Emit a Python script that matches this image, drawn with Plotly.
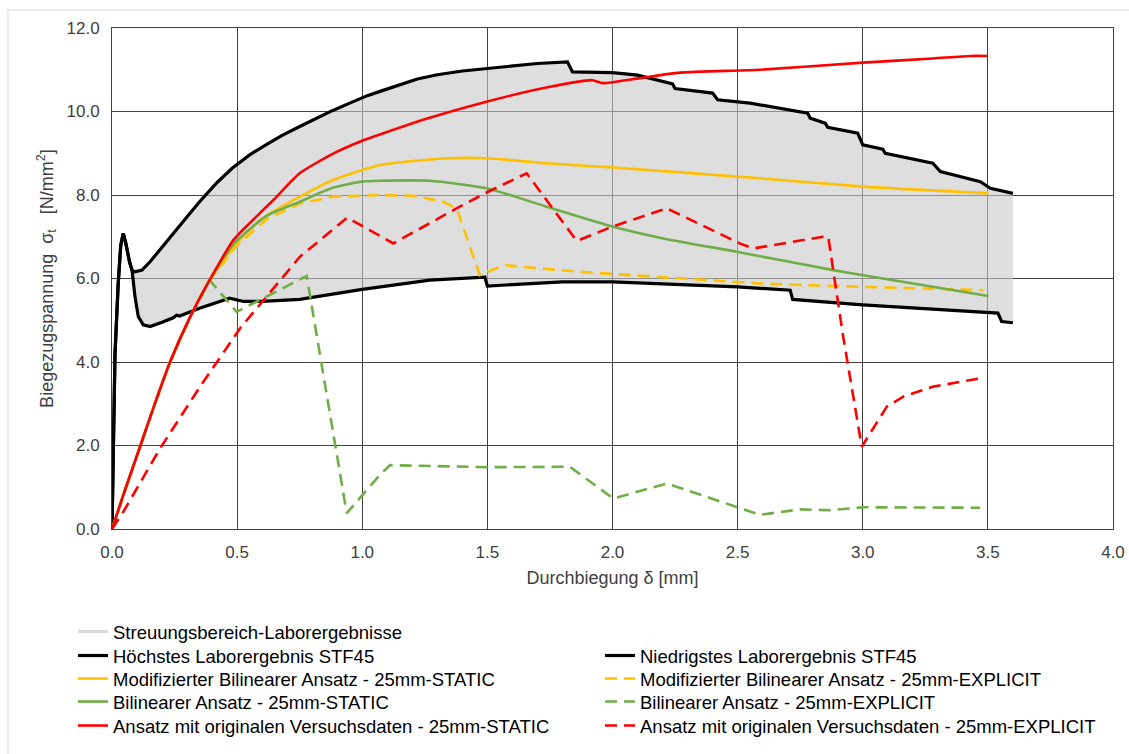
import plotly.graph_objects as go

# ---------------- data ----------------
high_x = [0, 0.006, 0.012, 0.025, 0.035, 0.045, 0.055, 0.07, 0.08, 0.092, 0.12, 0.152, 0.19, 0.22, 0.26,
          0.30, 0.35, 0.42, 0.48, 0.55, 0.62, 0.68, 0.75, 0.82, 0.88, 0.95, 1.02, 1.08, 1.15, 1.22,
          1.30, 1.40, 1.50, 1.60, 1.70, 1.82, 1.84, 2.00, 2.10, 2.24, 2.25,
          2.40, 2.42, 2.55, 2.78, 2.79, 2.85, 2.86, 2.98, 3.00, 3.08, 3.09, 3.28, 3.31, 3.47, 3.51, 3.60]
high_y = [0, 2.5, 4.2, 5.9, 6.8, 7.08, 6.85, 6.4, 6.2, 6.16, 6.2, 6.4, 6.68, 6.92, 7.2,
          7.48, 7.84, 8.3, 8.64, 8.96, 9.22, 9.43, 9.64, 9.85, 10.02, 10.2, 10.38, 10.5, 10.64, 10.78,
          10.88, 10.97, 11.03, 11.09, 11.15, 11.19, 10.95, 10.93, 10.87, 10.66, 10.55,
          10.44, 10.28, 10.2, 9.96, 9.84, 9.72, 9.62, 9.48, 9.2, 9.1, 9.0, 8.76, 8.56, 8.32, 8.16, 8.04]

low_x = [0, 0.006, 0.012, 0.025, 0.035, 0.045, 0.055, 0.07, 0.08, 0.092, 0.105, 0.125, 0.152, 0.2, 0.245,
         0.258, 0.27, 0.35, 0.47, 0.525, 0.6, 0.75, 0.95, 1.0, 1.27, 1.49, 1.50, 1.8, 2.0, 2.19,
         2.5, 2.71, 2.72, 3.0, 3.54, 3.555, 3.6]
low_y = [0, 2.5, 4.2, 5.9, 6.8, 7.08, 6.85, 6.4, 6.2, 5.56, 5.09, 4.89, 4.85, 4.95, 5.06,
         5.12, 5.1, 5.29, 5.53, 5.45, 5.45, 5.5, 5.68, 5.74, 5.96, 6.03, 5.82, 5.92, 5.92, 5.87,
         5.80, 5.72, 5.5, 5.37, 5.17, 4.97, 4.94]

red_static_x = [0, 0.05, 0.112, 0.17, 0.232, 0.31, 0.39, 0.485, 0.58, 0.645, 0.75, 0.88, 1.0, 1.07,
                1.27, 1.50, 1.74, 1.92, 1.96, 2.11, 2.27, 2.59, 3.0, 3.28, 3.43, 3.50]
red_static_y = [0, 0.9, 1.97, 2.98, 4.0, 5.05, 5.96, 6.92, 7.5, 7.88, 8.52, 8.98, 9.3, 9.45,
                9.85, 10.24, 10.58, 10.75, 10.68, 10.8, 10.93, 11.0, 11.17, 11.27, 11.33, 11.33]

yellow_static_x = [0, 0.05, 0.112, 0.17, 0.232, 0.31, 0.39, 0.5, 0.591, 0.751, 0.884, 1.071, 1.337,
                   1.497, 1.737, 2.003, 2.589, 3.002, 3.502]
yellow_static_y = [0, 0.9, 1.97, 2.98, 4.0, 5.05, 5.96, 6.85, 7.4, 7.96, 8.36, 8.72, 8.88,
                   8.88, 8.76, 8.66, 8.4, 8.2, 8.04]

green_static_x = [0, 0.05, 0.112, 0.17, 0.232, 0.31, 0.39, 0.485, 0.618, 0.751, 0.884, 1.0, 1.071,
                  1.271, 1.497, 1.737, 2.003, 2.203, 2.496, 2.882, 3.002, 3.502]
green_static_y = [0, 0.9, 1.97, 2.98, 4.0, 5.05, 5.96, 6.82, 7.5, 7.84, 8.18, 8.32, 8.34,
                  8.34, 8.16, 7.72, 7.24, 6.96, 6.64, 6.2, 6.08, 5.58]

yellow_explicit_x = [0, 0.05, 0.112, 0.17, 0.232, 0.31, 0.39, 0.5, 0.618, 0.751, 0.884, 1.071, 1.204,
                     1.324, 1.377, 1.47, 1.564, 1.87, 2.27, 2.589, 3.002, 3.482]
yellow_explicit_y = [0, 0.9, 1.97, 2.98, 4.0, 5.05, 5.96, 6.8, 7.42, 7.8, 7.96, 8.0, 7.98,
                     7.84, 7.68, 6.08, 6.32, 6.16, 6.0, 5.88, 5.8, 5.72]

green_explicit_x = [0, 0.05, 0.112, 0.17, 0.232, 0.31, 0.39, 0.498, 0.591, 0.778, 0.938, 1.071, 1.111,
                    1.497, 1.83, 2.003, 2.217, 2.589, 2.749, 2.869, 3.002, 3.469]
green_explicit_y = [0, 0.9, 1.97, 2.98, 4.0, 5.05, 5.96, 5.2, 5.48, 6.06, 0.38, 1.3, 1.53,
                    1.48, 1.49, 0.73, 1.09, 0.34, 0.47, 0.45, 0.52, 0.51]

red_explicit_x = [0, 0.045, 0.192, 0.352, 0.512, 0.618, 0.751, 0.94, 1.124, 1.377, 1.497, 1.657, 1.857,
                  2.003, 2.217, 2.509, 2.563, 2.842, 2.862, 2.922, 2.996, 3.096, 3.162, 3.282, 3.469]
red_explicit_y = [0, 0.41, 1.93, 3.41, 4.81, 5.56, 6.52, 7.46, 6.84, 7.68, 8.06, 8.52, 6.9,
                  7.25, 7.68, 6.84, 6.72, 7.0, 7.0, 4.6, 1.97, 2.93, 3.17, 3.41, 3.61]

names = {
    "band": "Streuungsbereich-Laborergebnisse",
    "high": "Höchstes Laborergebnis STF45",
    "low": "Niedrigstes Laborergebnis STF45",
    "ys": "Modifizierter Bilinearer Ansatz - 25mm-STATIC",
    "ye": "Modifizierter Bilinearer Ansatz - 25mm-EXPLICIT",
    "gs": "Bilinearer Ansatz - 25mm-STATIC",
    "ge": "Bilinearer Ansatz - 25mm-EXPLICIT",
    "rs": "Ansatz mit originalen Versuchsdaten - 25mm-STATIC",
    "re": "Ansatz mit originalen Versuchsdaten - 25mm-EXPLICIT",
}

# ---------------- styles ----------------
YELLOW = "#FFC000"
GREEN = "#70AD47"
RED = "#FF0000"
BLACK = "#000000"
DASH = "12px,7px"
FONT = "Liberation Sans, Arial, sans-serif"

# legend layout: one legend per row (pixel rows of the reference)
L_LEFT_PX, R_LEFT_PX = 73, 600
ROW_PX = [632, 656, 679, 702, 726]
PLOT_L, PLOT_W, PLOT_B, PLOT_H = 112, 1001, 529, 501


def lx(px):
    return (px - PLOT_L) / PLOT_W


def ly(py):
    return (PLOT_B - py) / PLOT_H


legend_slots = {
    "band": ("legend", L_LEFT_PX, ROW_PX[0]),
    "high": ("legend2", L_LEFT_PX, ROW_PX[1]),
    "ys": ("legend3", L_LEFT_PX, ROW_PX[2]),
    "gs": ("legend4", L_LEFT_PX, ROW_PX[3]),
    "rs": ("legend5", L_LEFT_PX, ROW_PX[4]),
    "low": ("legend6", R_LEFT_PX, ROW_PX[1]),
    "ye": ("legend7", R_LEFT_PX, ROW_PX[2]),
    "ge": ("legend8", R_LEFT_PX, ROW_PX[3]),
    "re": ("legend9", R_LEFT_PX, ROW_PX[4]),
}

fig = go.Figure()

# band (polygon between highest and lowest result)
fig.add_trace(go.Scatter(
    x=high_x + low_x[::-1], y=high_y + low_y[::-1],
    fill="toself", fillcolor="rgba(200,200,200,0.6)", mode="lines",
    line=dict(width=0, color="rgba(0,0,0,0)"), showlegend=False, hoverinfo="skip"))
fig.add_trace(go.Scatter(x=[None], y=[None], mode="lines", name=names["band"],
                         line=dict(color="#D9D9D9", width=3), legend=legend_slots["band"][0]))

series = [
    ("high", high_x, high_y, BLACK, 3.2, "solid", "linear"),
    ("low", low_x, low_y, BLACK, 3.2, "solid", "linear"),
    ("ys", yellow_static_x, yellow_static_y, YELLOW, 2.6, "solid", "spline"),
    ("ye", yellow_explicit_x, yellow_explicit_y, YELLOW, 2.6, DASH, "linear"),
    ("gs", green_static_x, green_static_y, GREEN, 2.6, "solid", "spline"),
    ("ge", green_explicit_x, green_explicit_y, GREEN, 2.6, DASH, "linear"),
    ("rs", red_static_x, red_static_y, RED, 2.6, "solid", "spline"),
    ("re", red_explicit_x, red_explicit_y, RED, 2.6, DASH, "linear"),
]
for key, xs, ys, col, w, dash, shape in series:
    line = dict(color=col, width=w, dash=dash, shape=shape)
    if shape == "spline":
        line["smoothing"] = 0.55
    fig.add_trace(go.Scatter(x=xs, y=ys, mode="lines", name=names[key], line=line,
                             legend=legend_slots[key][0]))

GRID = "#404040"
TXT = "#404040"
axis_common = dict(showgrid=True, gridcolor=GRID, gridwidth=1, zeroline=False,
                   showline=True, linecolor=GRID, linewidth=1, mirror=True,
                   tickformat=".1f", tickfont=dict(size=17, color=TXT, family=FONT),
                   ticks="", ticklabelstandoff=8)

layout = dict(
    width=1129, height=754,
    margin=dict(l=112, r=16, t=28, b=225, autoexpand=False),
    paper_bgcolor="white", plot_bgcolor="white",
    font=dict(family=FONT, color="#000000"),
    xaxis=dict(range=[0, 4], dtick=0.5, tick0=0,
               title=dict(text="Durchbiegung δ [mm]", font=dict(size=18, color=TXT), standoff=9),
               **axis_common),
    yaxis=dict(range=[0, 12], dtick=2, tick0=0,
               title=dict(text="Biegezugspannung\u00a0 σ<sub>t</sub>\u00a0\u00a0 [N/mm<sup>2</sup>]",
                          font=dict(size=18, color=TXT), standoff=8),
               **axis_common),
    shapes=[dict(type="rect", xref="paper", yref="paper",
                 x0=-0.1039, x1=1.03, y0=-0.47, y1=1.036,
                 line=dict(color="#D9D9D9", width=1), fillcolor="rgba(0,0,0,0)", layer="below")],
)
for key, (lname, px, py) in legend_slots.items():
    layout[lname] = dict(x=lx(px), y=ly(py), xanchor="left", yanchor="middle", orientation="v",
                         font=dict(size=18.5, color="#000000", family=FONT),
                         bgcolor="rgba(0,0,0,0)", borderwidth=0, itemwidth=30)

fig.update_layout(**layout)
fig.write_html("out.html")
